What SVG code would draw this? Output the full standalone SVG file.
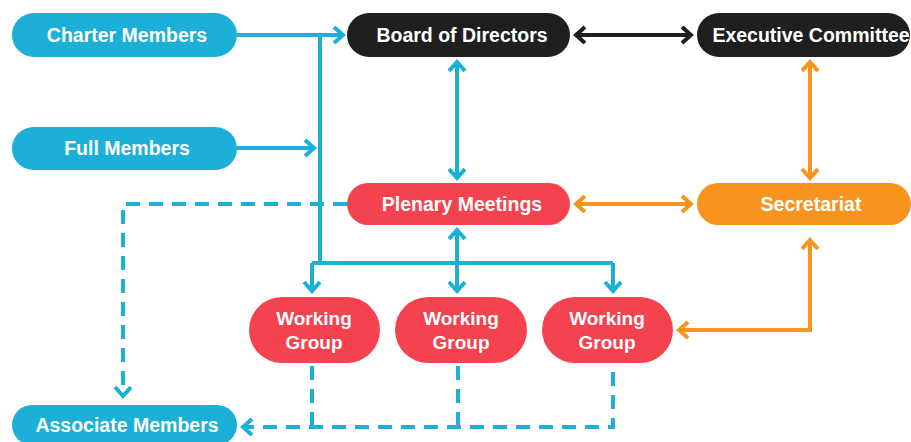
<svg xmlns="http://www.w3.org/2000/svg" width="911" height="442" viewBox="0 0 911 442">
<style>
.t{font-family:"Liberation Sans",Arial,Helvetica,sans-serif;font-weight:bold;font-size:19.5px;fill:#fff;text-anchor:middle}
.w{font-size:19px}
.blue{fill:#1cb0d9}
.red{fill:#f4424f}
.blk{fill:#1f1f1f}
.org{fill:#f7941d}
.c{fill:none;stroke-width:4;stroke-linejoin:miter}
.cb{stroke:#1cb0d9}
.ck{stroke:#1f1f1f}
.co{stroke:#f7941d}
.d{stroke-dasharray:14 9}
</style>
<defs>
<marker id="ab" markerUnits="userSpaceOnUse" markerWidth="16" markerHeight="20" refX="11" refY="9" orient="auto-start-reverse" viewBox="0 0 16 20"><path d="M2,1 L11,9 L2,17" fill="none" stroke="#1cb0d9" stroke-width="4"/></marker>
<marker id="ak" markerUnits="userSpaceOnUse" markerWidth="16" markerHeight="20" refX="11" refY="9" orient="auto-start-reverse" viewBox="0 0 16 20"><path d="M2,1 L11,9 L2,17" fill="none" stroke="#1f1f1f" stroke-width="4"/></marker>
<marker id="ao" markerUnits="userSpaceOnUse" markerWidth="16" markerHeight="20" refX="11" refY="9" orient="auto-start-reverse" viewBox="0 0 16 20"><path d="M2,1 L11,9 L2,17" fill="none" stroke="#f7941d" stroke-width="4"/></marker>
</defs>
<rect width="911" height="442" fill="#fff"/>
<g id="connectors">
<path class="c cb" d="M237,35 H343" marker-end="url(#ab)"/>
<path class="c cb" d="M320,35 V263"/>
<path class="c cb" d="M237,148 H314" marker-end="url(#ab)"/>
<path class="c cb" d="M457,62 V178" marker-start="url(#ab)" marker-end="url(#ab)"/>
<path class="c ck" d="M576,35 H691" marker-start="url(#ak)" marker-end="url(#ak)"/>
<path class="c co" d="M810,62 V178" marker-start="url(#ao)" marker-end="url(#ao)"/>
<path class="c co" d="M576,204 H691" marker-start="url(#ao)" marker-end="url(#ao)"/>
<path class="c cb" d="M457,230 V291" marker-start="url(#ab)" marker-end="url(#ab)"/>
<path class="c cb" d="M312,263 H613"/>
<path class="c cb" d="M312,263 V291" marker-end="url(#ab)"/>
<path class="c cb" d="M613,263 V291" marker-end="url(#ab)"/>
<path class="c co" d="M679,330 H810 V240" marker-start="url(#ao)" marker-end="url(#ao)"/>
<path class="c cb d" d="M347,204 H123 V396" marker-end="url(#ab)"/>
<path class="c cb d" d="M312,366 V427"/>
<path class="c cb d" d="M458,366 V427"/>
<path class="c cb d" d="M613,372 V427 H243" marker-end="url(#ab)"/>
</g>
<g id="charter-members"><rect class="blue" x="12" y="13" width="225" height="44" rx="22"/><text class="t" x="127" y="42">Charter Members</text></g>
<g id="full-members"><rect class="blue" x="12" y="127" width="225" height="43" rx="21.5"/><text class="t" x="127" y="155">Full Members</text></g>
<g id="associate-members"><rect class="blue" x="12" y="405" width="225" height="40" rx="20"/><text class="t" x="127" y="432">Associate Members</text></g>
<g id="board-of-directors"><rect class="blk" x="347" y="13" width="223" height="44" rx="22"/><text class="t" x="462" y="42">Board of Directors</text></g>
<g id="executive-committee"><rect class="blk" x="697" y="13" width="213" height="44" rx="22"/><text class="t" x="811" y="42">Executive Committee</text></g>
<g id="plenary-meetings"><rect class="red" x="347" y="183" width="223" height="42" rx="21"/><text class="t" x="462" y="211">Plenary Meetings</text></g>
<g id="secretariat"><rect class="org" x="697" y="183" width="214" height="42" rx="21"/><text class="t" x="811" y="211">Secretariat</text></g>
<g id="working-group-1"><rect class="red" x="249" y="297" width="131" height="66" rx="33"/><text class="t w" x="314" y="325">Working</text><text class="t w" x="314" y="349">Group</text></g>
<g id="working-group-2"><rect class="red" x="395" y="297" width="132" height="66" rx="33"/><text class="t w" x="461" y="325">Working</text><text class="t w" x="461" y="349">Group</text></g>
<g id="working-group-3"><rect class="red" x="542" y="297" width="131" height="66" rx="33"/><text class="t w" x="607" y="325">Working</text><text class="t w" x="607" y="349">Group</text></g>
</svg>
